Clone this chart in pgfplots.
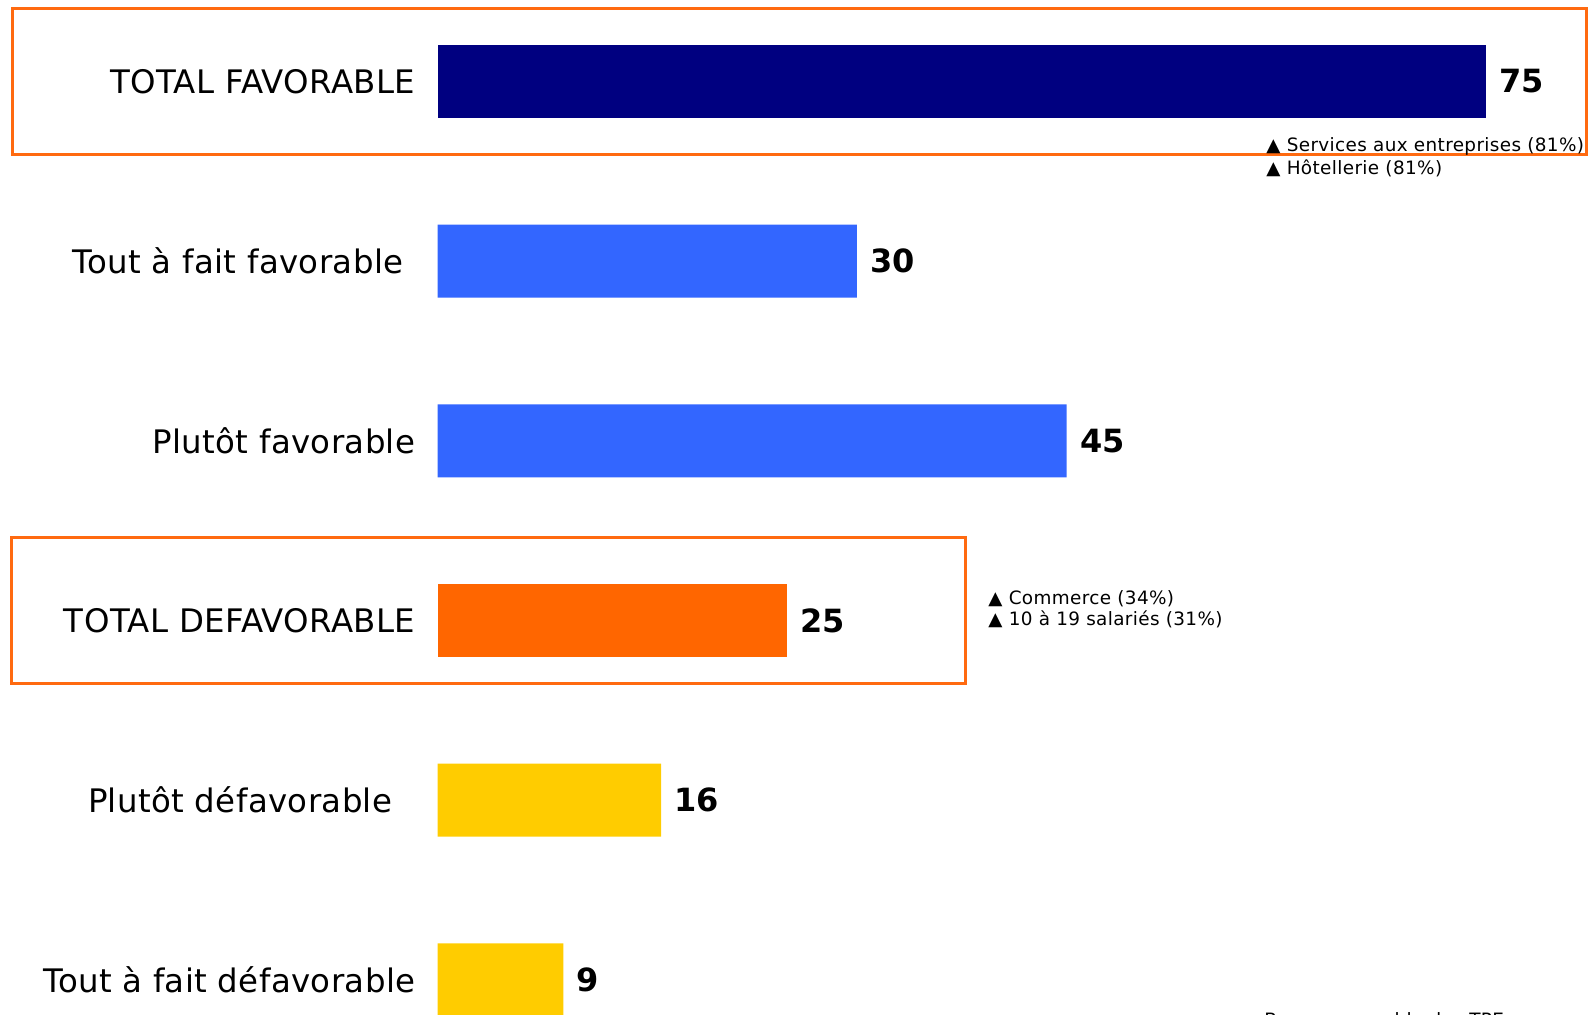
\documentclass[border=0pt]{standalone}
\usepackage{fontspec}
\setmainfont{DejaVu Sans}
\newfontfamily\labelfont[LetterSpace=1.2]{DejaVu Sans}
\newfontfamily\notefont[LetterSpace=2]{DejaVu Sans}
\usepackage{pgfplots}
\pgfplotsset{compat=1.18}
\definecolor{navybar}{HTML}{000080}
\definecolor{bluebar}{HTML}{3366FF}
\definecolor{orangebar}{HTML}{FF6600}
\definecolor{yellowbar}{HTML}{FFCC00}
\definecolor{boxorange}{HTML}{FF6A10}
\begin{document}
\begin{tikzpicture}
\begin{axis}[
  at={(218.75pt,-534.85pt)}, anchor=south west,
  scale only axis, width=559.2pt, height=539pt,
  xbar, bar width=36.5pt,
  xmin=0, xmax=80, ymin=-0.5, ymax=5.5, y dir=reverse,
  axis line style={draw=none}, xtick=\empty,
  ytick={0,1,2,3,4,5},
  yticklabels={TOTAL FAVORABLE, Tout à fait favorable\hspace*{6pt}, Plutôt favorable, TOTAL DEFAVORABLE, Plutôt défavorable\hspace*{11.5pt}, Tout à fait défavorable},
  major tick length=0pt,
  yticklabel style={font=\labelfont\fontsize{16.2}{19}\selectfont, inner sep=0pt, xshift=-10.9pt},
  /pgf/number format/assume math mode=true,
  nodes near coords,
  nodes near coords style={font=\bfseries\fontsize{16}{19}\selectfont, anchor=west, inner sep=0pt, xshift=6.5pt},
  point meta=x,
  clip=false,
]
\addplot[fill=navybar, draw=none, bar shift=0pt] coordinates {(75,0)};
\addplot[fill=bluebar, draw=none, bar shift=0pt] coordinates {(30,1) (45,2)};
\addplot[fill=orangebar, draw=none, bar shift=0pt] coordinates {(25,3)};
\addplot[fill=yellowbar, draw=none, bar shift=0pt] coordinates {(16,4) (9,5)};
\end{axis}
\draw[boxorange, line width=1.5pt] (6pt,-4pt) rectangle (793pt,-77pt);
\draw[boxorange, line width=1.5pt] (5.5pt,-268.5pt) rectangle (482.5pt,-341.5pt);
\begin{scope}[every node/.style={anchor=base west, inner sep=0pt, font=\notefont\fontsize{9.2}{11}\selectfont}]
\node at (633pt,-75.5pt) {▲ Services aux entreprises (81\%)};
\node at (633pt,-87pt) {▲ Hôtellerie (81\%)};
\node at (494pt,-302pt) {▲ Commerce (34\%)};
\node at (494pt,-312.5pt) {▲ 10 à 19 salariés (31\%)};
\node at (632pt,-513pt) {Base : ensemble des TPE};
\end{scope}
\pgfresetboundingbox
\useasboundingbox (0pt,0pt) rectangle (794pt,-507pt);
\end{tikzpicture}
\end{document}
